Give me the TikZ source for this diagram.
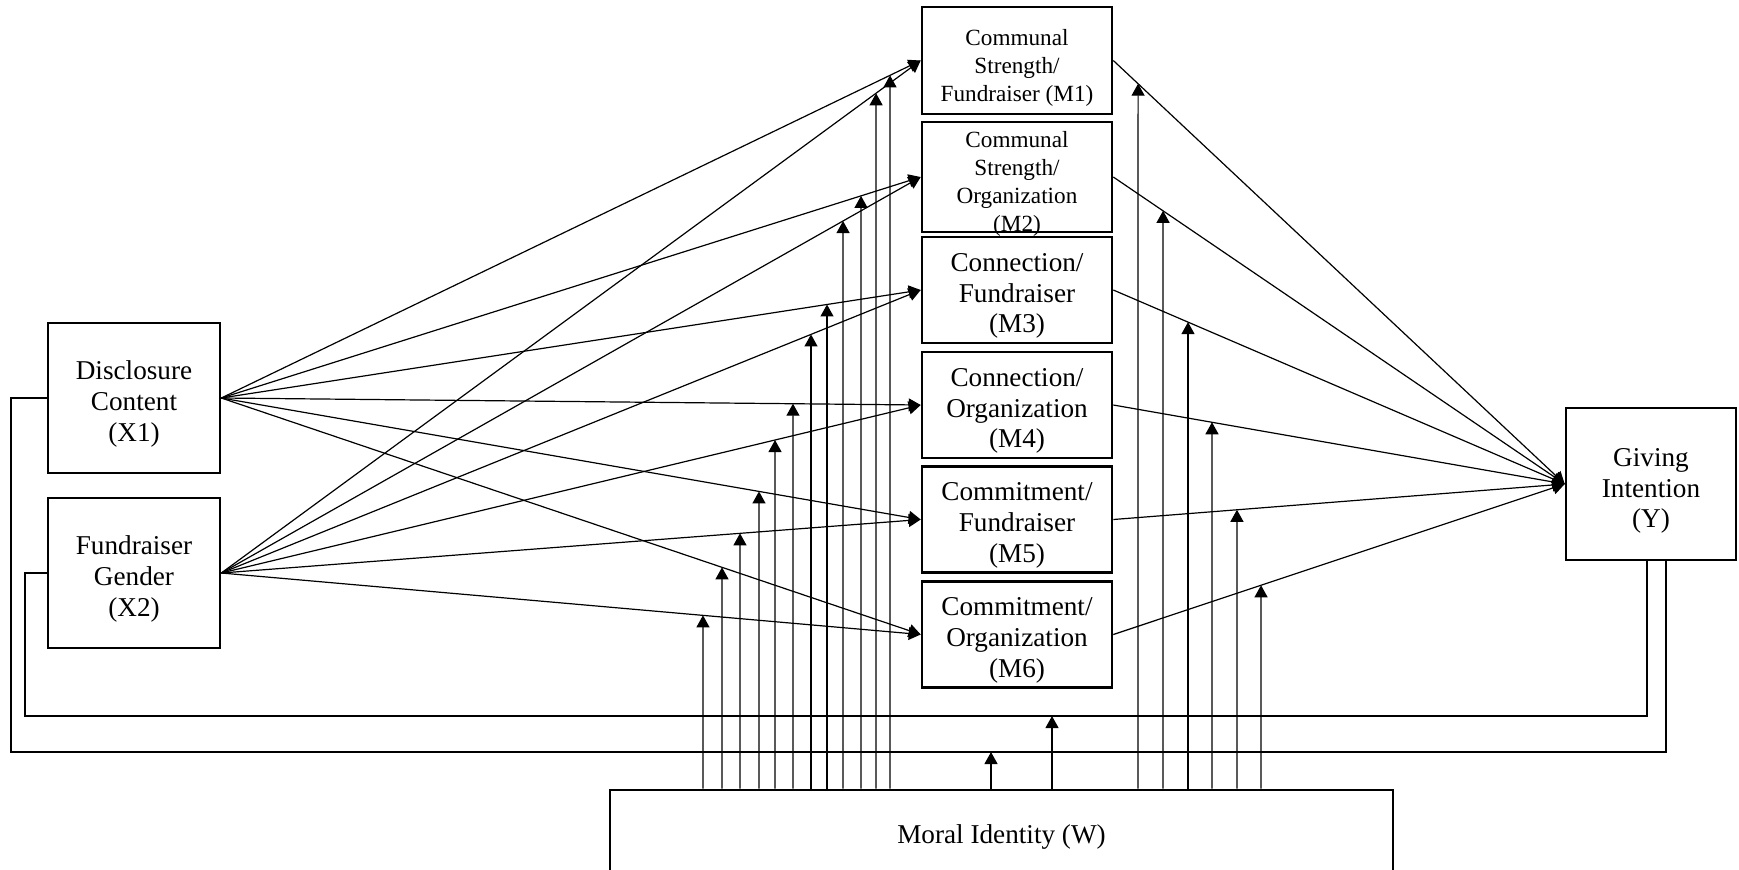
\documentclass[tikz,border=0pt]{standalone}
\usepackage{fontspec}
\setmainfont{Liberation Serif}
\usetikzlibrary{arrows.meta}
\begin{document}
\begin{tikzpicture}[x=0.5pt,y=-0.5pt,
  box/.style={draw,line width=1.3pt,rectangle,inner sep=0pt},
  xbox/.style={box,minimum width=86pt,minimum height=75pt},
  mbox/.style={box,minimum width=95pt,minimum height=53pt},
  label text/.style={align=center,inner sep=0pt,font=\fontsize{13.6}{15.4}\selectfont},
  small text/.style={align=center,inner sep=0pt,font=\fontsize{11.6}{14}\selectfont},
  link/.style={line width=0.6pt,-{Triangle[length=6pt,width=6.5pt]}},
  plain/.style={line width=0.6pt},
]
\useasboundingbox (0,0) rectangle (1739,869);
\clip (0,0) rectangle (1739,869);

% independent variables
\node[xbox] (X1) at (134,398) {};
\node[label text] (X1t) at ([yshift=-3pt]X1.center) {Disclosure\\Content\\(X1)};
\node[xbox] (X2) at (134,573) {};
\node[label text] (X2t) at ([yshift=-3pt]X2.center) {Fundraiser\\Gender\\(X2)};

% mediators
\node[mbox,minimum height=53.5pt] (M1) at (1017,60.5) {};
\node[small text] (M1t) at ([yshift=-3.5pt]M1.center) {Communal\\Strength/\\Fundraiser (M1)};
\node[mbox,minimum height=55pt] (M2) at (1017,177) {};
\node[small text] (M2t) at ([yshift=-3.5pt]M2.center) {Communal\\Strength/\\Organization\\(M2)};
\node[mbox] (M3) at (1017,290) {};
\node[label text] (M3t) at ([yshift=-3pt]M3.center) {Connection/\\Fundraiser\\(M3)};
\node[mbox] (M4) at (1017,405) {};
\node[label text] (M4t) at ([yshift=-3pt]M4.center) {Connection/\\Organization\\(M4)};
\node[mbox] (M5) at (1017,519.5) {};
\node[label text] (M5t) at ([yshift=-3pt]M5.center) {Commitment/\\Fundraiser\\(M5)};
\node[mbox] (M6) at (1017,634.5) {};
\node[label text] (M6t) at ([yshift=-3pt]M6.center) {Commitment/\\Organization\\(M6)};

% outcome and moderator
\node[box,minimum width=85pt,minimum height=76pt] (Y) at (1651,484) {};
\node[label text] (Yt) at ([yshift=-3.5pt]Y.center) {Giving\\Intention\\(Y)};
\node[box,minimum width=391.5pt,minimum height=43pt] (W) at (1001.5,833) {};
\node[label text] (Wt) at ([yshift=-2pt]W.center) {Moral Identity (W)};

% X -> M paths
\foreach \m in {1,...,6} {
  \draw[link] (X1.east) -- (M\m.west);
  \draw[link] (X2.east) -- (M\m.west);
}

% moderation of the X -> M paths
\foreach \x/\s/\m in {890/X1/1,876/X2/1,861/X1/2,843/X2/2,827/X1/3,811/X2/3,
                      793/X1/4,775/X2/4,759/X1/5,740/X2/5,722/X1/6,703/X2/6} {
  \draw[link] (\x,0 |- W.north) -- (intersection of \x,0--\x,100 and \s.east--M\m.west);
}

% M -> Y paths and their moderation
\foreach \x/\m in {1138/1,1163/2,1188/3,1212/4,1237/5,1261/6} {
  \draw[link] (M\m.east) -- (Y.west);
  \draw[link] (\x,0 |- W.north) -- (intersection of \x,0--\x,100 and M\m.east--Y.west);
}

% direct X -> Y paths
\coordinate (c1) at (11,752);
\coordinate (c2) at (25,716);
\draw[plain] (X1.west) -| (c1) -| ([xshift=7.5pt]Y.south);
\draw[plain] (X2.west) -| (c2) -| ([xshift=-2pt]Y.south);
\draw[link] (991,0 |- W.north) -- (991,0 |- c1);
\draw[link] (1052,0 |- W.north) -- (1052,0 |- c2);
\end{tikzpicture}
\end{document}
